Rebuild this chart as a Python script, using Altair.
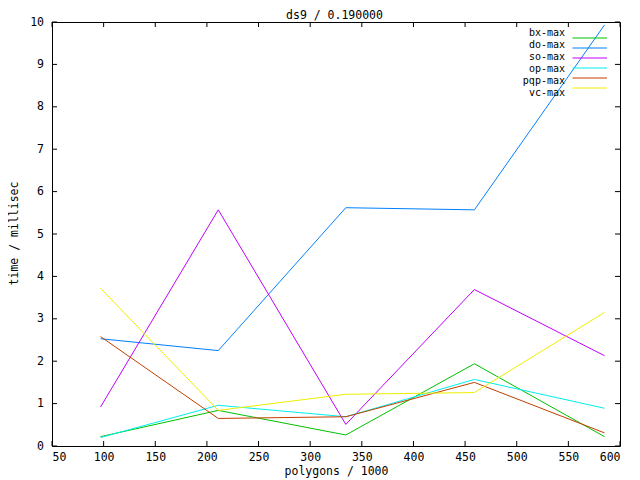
import altair as alt
import pandas as pd

# ---- data ----
x_vals = [97, 211, 334.5, 459, 585]
series = ["bx-max", "do-max", "so-max", "op-max", "pqp-max", "vc-max"]
bx_max = [0.22, 0.84, 0.26, 1.94, 0.22]
do_max = [2.53, 2.25, 5.62, 5.57, 9.93]
so_max = [0.92, 5.57, 0.51, 3.69, 2.13]
op_max = [0.20, 0.96, 0.69, 1.57, 0.89]
pqp_max = [2.58, 0.65, 0.69, 1.50, 0.31]
vc_max = [3.72, 0.84, 1.22, 1.26, 3.15]
colors = ["#00c000", "#0080ff", "#c000ff", "#00eeee", "#c04000", "#eeee00"]
x_ticks = list(range(50, 601, 50))
y_ticks = list(range(0, 11))
chart_title = "ds9 / 0.190000"

values = [bx_max, do_max, so_max, op_max, pqp_max, vc_max]
rows = []
for name, vals in zip(series, values):
    for xv, yv in zip(x_vals, vals):
        rows.append({"series": name, "polygons": xv, "time": yv})
df = pd.DataFrame(rows)
xt = pd.DataFrame({"polygons": x_ticks})
yt = pd.DataFrame({"time": y_ticks})
leg = pd.DataFrame({"series": series})

W, H = 568, 424
FONT = "DejaVu Sans Mono"
FS = 11.5
LFS = 10
TL = 5

xscale = alt.Scale(domain=[50, 600], nice=False, zero=False)
yscale = alt.Scale(domain=[0, 10], nice=False, zero=False)
cscale = alt.Scale(domain=series, range=colors)

lines = alt.Chart(df).mark_line(strokeWidth=1).encode(
    x=alt.X("polygons:Q", scale=xscale,
            axis=alt.Axis(values=x_ticks, ticks=False, tickSize=0, domain=False,
                          grid=False, labelPadding=14.5, labelBaseline="alphabetic",
                          title="polygons / 1000",
                          titleX=W / 2, titleY=28.5, titleBaseline="alphabetic")),
    y=alt.Y("time:Q", scale=yscale,
            axis=alt.Axis(values=y_ticks, ticks=False, tickSize=0, domain=False,
                          grid=False, labelPadding=8.5, title="time / millisec",
                          titleX=-35, titleY=211, titleBaseline="alphabetic",
                          titleAngle=-90)),
    color=alt.Color("series:N", scale=cscale, legend=None),
)

tick_bottom = alt.Chart(xt).mark_rule(color="black", strokeWidth=1).encode(
    x="polygons:Q", y=alt.value(H), y2=alt.value(H - TL))
tick_top = alt.Chart(xt).mark_rule(color="black", strokeWidth=1).encode(
    x="polygons:Q", y=alt.value(0), y2=alt.value(TL))
tick_left = alt.Chart(yt).mark_rule(color="black", strokeWidth=1).encode(
    y="time:Q", x=alt.value(0), x2=alt.value(TL))
tick_right = alt.Chart(yt).mark_rule(color="black", strokeWidth=1).encode(
    y="time:Q", x=alt.value(W), x2=alt.value(W - TL))

title_mark = alt.Chart(pd.DataFrame({"t": [chart_title]})).mark_text(
    font=FONT, fontSize=FS, color="black", align="center", baseline="alphabetic"
).encode(x=alt.value(W / 2 - 1.5), y=alt.value(-3), text="t:N")

main = alt.layer(lines, tick_bottom, tick_top, tick_left, tick_right, title_mark)

lscale = alt.Scale(domain=series, range=[11, 71], padding=0)
leg_text = alt.Chart(leg).mark_text(align="right", baseline="middle", font=FONT,
                                    fontSize=LFS, color="black").encode(
    x=alt.value(513),
    y=alt.Y("series:N", scale=lscale, axis=None),
    text="series:N",
)
leg_rule = alt.Chart(leg).mark_rule(strokeWidth=1).encode(
    x=alt.value(520.5), x2=alt.value(555),
    y=alt.Y("series:N", scale=lscale, axis=None),
    color=alt.Color("series:N", scale=cscale, legend=None),
)

chart = alt.layer(main, leg_rule, leg_text).resolve_scale(y="independent").properties(
    width=W, height=H,
    autosize=alt.AutoSizeParams(type="none"),
    padding={"left": 44, "top": 14, "right": 10, "bottom": 32},
    background="white",
).configure_view(stroke="black", strokeWidth=1).configure_axis(
    labelFont=FONT, labelFontSize=FS, labelColor="black",
    titleFont=FONT, titleFontSize=FS, titleColor="black", titleFontWeight="normal",
)

chart.save("out.html", embed_options={"renderer": "svg", "actions": False})
